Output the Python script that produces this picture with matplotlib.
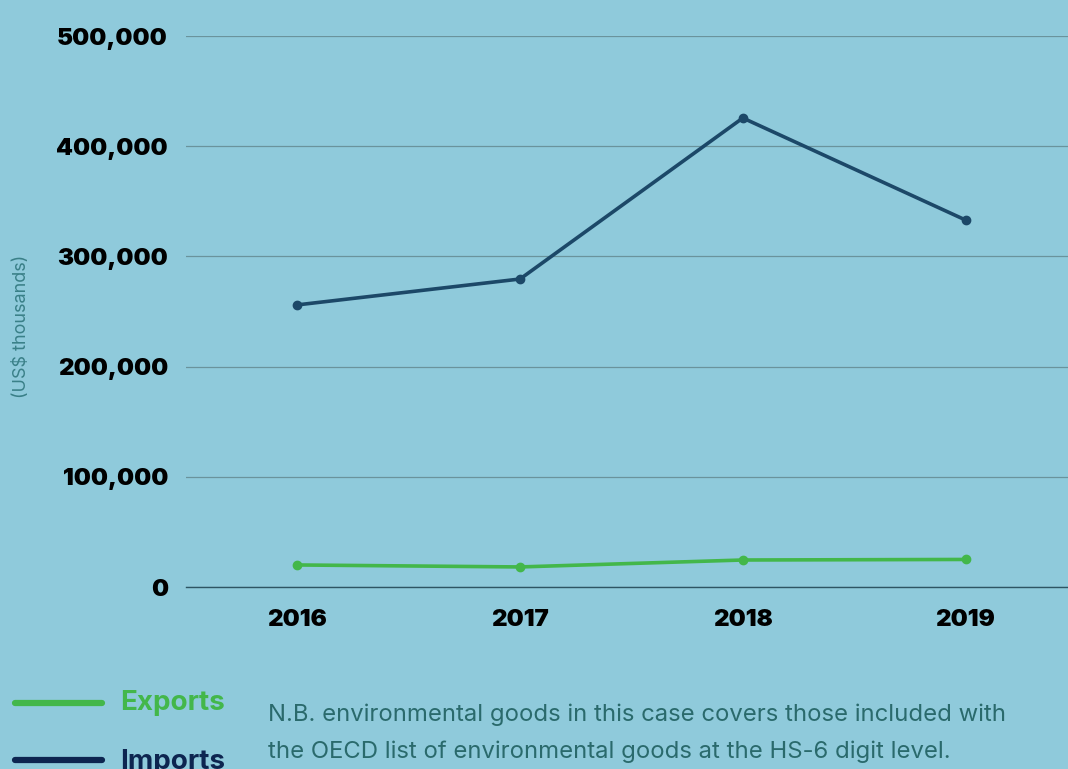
import matplotlib.pyplot as plt
from matplotlib.ticker import FuncFormatter

# data
years = ["2016", "2017", "2018", "2019"]
imports = [256000, 279500, 425600, 333000]
exports = [20000, 18200, 24500, 25000]
y_ticks = [0, 100000, 200000, 300000, 400000, 500000]

BG = "#8fcadb"
IMP = "#1c4868"
EXP = "#43b74a"
NAVY = "#0d2550"
NOTE = "#2a6a6c"

plt.rcParams["font.family"] = ["Inter", "DejaVu Sans"]

fig = plt.figure(figsize=(10.68, 7.69), dpi=100, facecolor=BG)
ax = fig.add_axes([186 / 1068, 1 - 587 / 769, (1068 - 186) / 1068, (587 - 36) / 769])
ax.set_facecolor(BG)

x = list(range(len(years)))
ax.plot(x, imports, color=IMP, lw=2.6, marker="o", ms=6, zorder=3)
ax.plot(x, exports, color=EXP, lw=2.6, marker="o", ms=6, zorder=3)

ax.set_xlim(-0.5, 3.46)
ax.set_ylim(0, 500000)
ax.set_yticks(y_ticks)
ax.yaxis.set_major_formatter(FuncFormatter(lambda v, p: f"{int(v):,}"))
ax.set_xticks(x)
ax.set_xticklabels(years)

for t in ax.get_yticklabels() + ax.get_xticklabels():
    t.set_fontweight("black")
    t.set_fontsize(17.3)
    t.set_color("black")

ax.tick_params(axis="both", length=0)
ax.tick_params(axis="y", pad=13)
ax.tick_params(axis="x", pad=16)

ax.grid(axis="y", color="#6a939c", lw=0.9)
ax.set_axisbelow(True)
for s in ["top", "right", "left"]:
    ax.spines[s].set_visible(False)
ax.spines["bottom"].set_color("#2e5563")
ax.spines["bottom"].set_linewidth(1.0)

fig.text(22 / 1068, 1 - 326 / 769, "(US$ thousands)", rotation=90,
         ha="center", va="center", fontsize=13, color="#3a8088")

# legend drawn by hand at the bottom left
fig.add_artist(plt.Line2D([15 / 1068, 102 / 1068], [1 - 703 / 769] * 2,
                          color=EXP, lw=4.5, solid_capstyle="round"))
fig.add_artist(plt.Line2D([15 / 1068, 102 / 1068], [1 - 760 / 769] * 2,
                          color=NAVY, lw=4.5, solid_capstyle="round"))
fig.text(120 / 1068, 1 - 703 / 769, "Exports", fontsize=20, fontweight="bold",
         color=EXP, va="center", ha="left")
fig.text(120 / 1068, 1 - 762 / 769, "Imports", fontsize=20, fontweight="bold",
         color=NAVY, va="center", ha="left")

fig.text(268 / 1068, 1 - 715 / 769,
         "N.B. environmental goods in this case covers those included with",
         fontsize=17.2, color=NOTE, va="center", ha="left")
fig.text(268 / 1068, 1 - 752 / 769,
         "the OECD list of environmental goods at the HS-6 digit level.",
         fontsize=17.2, color=NOTE, va="center", ha="left")

fig.savefig("out.png", dpi=100, facecolor=BG)
